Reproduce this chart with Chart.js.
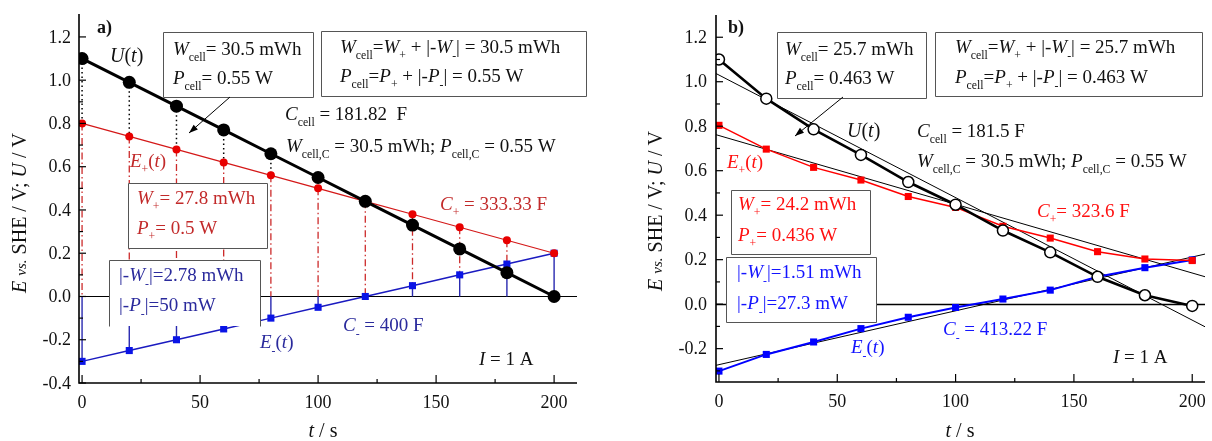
<!DOCTYPE html>
<html><head><meta charset="utf-8">
<script src="https://cdn.jsdelivr.net/npm/chart.js@4.4.0/dist/chart.umd.min.js"></script>
<style>
html,body{margin:0;padding:0;background:#fff;}
#wrap{position:relative;width:1212px;height:441px;overflow:hidden;background:#fff;}
canvas{position:absolute;top:0;}
#ca{left:0;}
#cb{left:606px;}
</style></head><body>
<div id="wrap">
<canvas id="ca" width="606" height="441"></canvas>
<canvas id="cb" width="606" height="441"></canvas>
</div>
<script>
// ---------------- DATA ----------------
const timeA = [0, 20, 40, 60, 80, 100, 120, 140, 160, 180, 200];
const cellVoltageA = [1.10, 0.99, 0.88, 0.77, 0.66, 0.55, 0.44, 0.33, 0.22, 0.11, 0.00];
const ePlusA = [0.80, 0.74, 0.68, 0.62, 0.56, 0.50, 0.44, 0.38, 0.32, 0.26, 0.20];
const eMinusA = [-0.30, -0.25, -0.20, -0.15, -0.10, -0.05, 0.00, 0.05, 0.10, 0.15, 0.20];

const timeB = [0, 20, 40, 60, 80, 100, 120, 140, 160, 180, 200];
const cellVoltageB = [1.100, 0.924, 0.786, 0.671, 0.549, 0.447, 0.331, 0.233, 0.123, 0.040, -0.008];
const ePlusB = [0.804, 0.697, 0.615, 0.558, 0.484, 0.435, 0.350, 0.297, 0.236, 0.203, 0.196];
const eMinusB = [-0.301, -0.226, -0.170, -0.110, -0.059, -0.015, 0.023, 0.063, 0.123, 0.164, 0.199];

// linear fits in panel b: intercept at t=0 and capacitance (V = V0 -/+ t/C)
const fitInterceptB = [1.03, 0.758, -0.272];
const fitCapacitanceB = [181.5, 323.6, 413.22];
const fitSignB = [-1, -1, 1];

const xMajorTicks = [0, 50, 100, 150, 200];
const xMinorTicks = [25, 75, 125, 175];
const yMajorTicksA = [-0.4, -0.2, 0.0, 0.2, 0.4, 0.6, 0.8, 1.0, 1.2];
const yMinorTicksA = [-0.3, -0.1, 0.1, 0.3, 0.5, 0.7, 0.9, 1.1];
const yMajorTicksB = [-0.2, 0.0, 0.2, 0.4, 0.6, 0.8, 1.0, 1.2];
const yMinorTicksB = [-0.3, -0.1, 0.1, 0.3, 0.5, 0.7, 0.9, 1.1];

// ---------------- HELPERS ----------------
const FONT = '"Liberation Serif","Times New Roman",serif';
function fnt(size, it, b) { return (it ? 'italic ' : '') + (b ? 'bold ' : '') + size + 'px ' + FONT; }
function parseRich(s) {
  const runs = []; let i = 0, italic = false, buf = '';
  const push = () => { if (buf) { runs.push({t: buf, i: italic}); buf = ''; } };
  while (i < s.length) {
    const ch = s[i];
    if (ch === '*') { push(); italic = !italic; i++; continue; }
    if ((ch === '_' || ch === '^' || ch === '~') && s[i + 1] === '{') {
      push(); const j = s.indexOf('}', i);
      runs.push({t: s.slice(i + 2, j), i: ch === '~' ? true : false, sub: ch === '_', sup: ch === '^', small: ch === '~'});
      i = j + 1; continue;
    }
    buf += ch; i++;
  }
  push(); return runs;
}
function drawRich(ctx, x, y, s, size, color, align, bold) {
  const runs = parseRich(s);
  const parts = runs.map(r => {
    const sz = (r.sub || r.sup) ? size * 0.62 : (r.small ? size * 0.75 : size);
    const f = fnt(sz, r.i, bold); ctx.font = f;
    return {r, f, w: ctx.measureText(r.t).width, dy: r.sub ? size * 0.3 : (r.sup ? -size * 0.38 : 0)};
  });
  const total = parts.reduce((a, p) => a + p.w, 0);
  let cx = align === 'center' ? x - total / 2 : x;
  ctx.fillStyle = color; ctx.textAlign = 'left'; ctx.textBaseline = 'alphabetic';
  for (const p of parts) { ctx.font = p.f; ctx.fillText(p.r.t, cx, y + p.dy); cx += p.w; }
  return total;
}
function pts(t, v) { return t.map((x, i) => ({x, y: v[i]})); }
function segs(t, lo, hi, keep) {
  const out = [];
  t.forEach((x, i) => {
    if (keep && !keep(i)) return;
    out.push({x, y: lo[i]}, {x, y: hi[i]}, {x, y: null});
  });
  return out;
}

function makePanel(canvasId, P) {
  const overlay = {
    id: 'overlay' + canvasId,
    beforeDatasetsDraw(chart) {
      const ctx = chart.ctx, xs = chart.scales.x, ys = chart.scales.y, a = chart.chartArea;
      ctx.save();
      ctx.strokeStyle = '#000'; ctx.lineWidth = P.zeroWidth;
      const y0 = Math.round(ys.getPixelForValue(0)) + 0.5;
      ctx.beginPath(); ctx.moveTo(a.left, y0); ctx.lineTo(a.right, y0); ctx.stroke();
      ctx.restore();
    },
    afterDatasetsDraw(chart) {
      const ctx = chart.ctx, xs = chart.scales.x, ys = chart.scales.y, a = chart.chartArea;
      const ox = P.offsetX;
      ctx.save();
      // axes
      ctx.strokeStyle = '#000'; ctx.lineWidth = 1.6;
      ctx.beginPath(); ctx.moveTo(a.left, a.top); ctx.lineTo(a.left, a.bottom); ctx.lineTo(a.right, a.bottom); ctx.stroke();
      ctx.lineWidth = 1.2;
      for (const v of xMajorTicks) { const px = xs.getPixelForValue(v); ctx.beginPath(); ctx.moveTo(px, a.bottom); ctx.lineTo(px, a.bottom - 8); ctx.stroke(); }
      for (const v of xMinorTicks) { const px = xs.getPixelForValue(v); ctx.beginPath(); ctx.moveTo(px, a.bottom); ctx.lineTo(px, a.bottom - 4); ctx.stroke(); }
      for (const v of P.yMajor) { const py = ys.getPixelForValue(v); ctx.beginPath(); ctx.moveTo(a.left, py); ctx.lineTo(a.left + 7, py); ctx.stroke(); }
      for (const v of P.yMinor) { const py = ys.getPixelForValue(v); ctx.beginPath(); ctx.moveTo(a.left, py); ctx.lineTo(a.left + 4, py); ctx.stroke(); }
      // tick labels
      ctx.fillStyle = '#111'; ctx.font = fnt(18);
      ctx.textAlign = 'center'; ctx.textBaseline = 'alphabetic';
      for (const v of xMajorTicks) ctx.fillText(String(v), xs.getPixelForValue(v), P.xLabelBaseline);
      ctx.textAlign = 'right'; ctx.textBaseline = 'middle';
      for (const v of P.yMajor) ctx.fillText(v.toFixed(1), P.yLabelRight - ox, ys.getPixelForValue(v) + 1);
      // axis titles
      drawRich(ctx, P.xTitle.x - ox, P.xTitle.y, '*t* / s', 20, '#111', 'center');
      ctx.save(); ctx.translate(P.yTitle.x - ox, P.yTitle.y); ctx.rotate(-Math.PI / 2);
      drawRich(ctx, 0, 7, '*E* ~{vs.} SHE / V; *U* / V', 20, '#111', 'center');
      ctx.restore();
      // boxes
      for (const b of P.boxes) {
        ctx.fillStyle = '#fff'; ctx.fillRect(b.r[0] - ox, b.r[1], b.r[2] - b.r[0], b.r[3] - b.r[1]);
        ctx.strokeStyle = '#555'; ctx.lineWidth = 1;
        const L = Math.round(b.r[0] - ox) + 0.5, T = Math.round(b.r[1]) + 0.5, R = Math.round(b.r[2] - ox) + 0.5, B = Math.round(b.r[3]) + 0.5;
        ctx.beginPath();
        if (b.open) { ctx.moveTo(L, B); ctx.lineTo(L, T); ctx.lineTo(R, T); ctx.lineTo(R, B); }
        else ctx.rect(L, T, R - L, B - T);
        ctx.stroke();
      }
      // arrows
      for (const ar of P.arrows) {
        const [x1, y1, x2, y2] = [ar[0] - ox, ar[1], ar[2] - ox, ar[3]];
        ctx.strokeStyle = '#000'; ctx.lineWidth = 1;
        ctx.beginPath(); ctx.moveTo(x1, y1); ctx.lineTo(x2, y2); ctx.stroke();
        const ang = Math.atan2(y2 - y1, x2 - x1), hl = 9, hw = 3.2;
        ctx.fillStyle = '#000'; ctx.beginPath();
        ctx.moveTo(x2, y2);
        ctx.lineTo(x2 - hl * Math.cos(ang) + hw * Math.sin(ang), y2 - hl * Math.sin(ang) - hw * Math.cos(ang));
        ctx.lineTo(x2 - hl * Math.cos(ang) - hw * Math.sin(ang), y2 - hl * Math.sin(ang) + hw * Math.cos(ang));
        ctx.closePath(); ctx.fill();
      }
      // texts
      for (const t of P.texts) drawRich(ctx, t.x - ox, t.y, t.s, t.size || 19, t.c || '#111', t.align, t.b);
      ctx.restore();
    }
  };
  return new Chart(document.getElementById(canvasId), {
    type: 'line',
    data: {datasets: P.datasets},
    options: {
      responsive: false, animation: false, events: [],
      layout: {padding: {left: 0, top: P.area.top, right: 606 - P.area.right, bottom: 0}},
      plugins: {legend: {display: false}, tooltip: {enabled: false}, title: {display: false}},
      scales: {
        x: {type: 'linear', min: P.xRange[0], max: P.xRange[1],
            grid: {display: false, drawTicks: false}, border: {display: false}, ticks: {display: false},
            afterFit(s) { s.height = 441 - P.area.bottom; s.paddingLeft = 0; s.paddingRight = 0; }},
        y: {type: 'linear', min: P.yRange[0], max: P.yRange[1],
            grid: {display: false, drawTicks: false}, border: {display: false}, ticks: {display: false},
            afterFit(s) { s.width = P.area.left; s.paddingTop = 0; s.paddingBottom = 0; }}
      },
      elements: {line: {tension: 0}}
    },
    plugins: [overlay]
  });
}

// ---------------- PANEL A ----------------
const redA = '#c22a2a', blueA = '#2a2a9c';
const dropLo = eMinusA.map(v => Math.max(v, 0));
const zeroA = eMinusA.map(() => 0);
makePanel('ca', {
  offsetX: 0,
  area: {left: 79, top: 14, right: 577, bottom: 383},
  xRange: [-1.3, 209.7], yRange: [-0.4, 1.306],
  yMajor: yMajorTicksA, yMinor: yMinorTicksA,
  zeroWidth: 1,
  xLabelBaseline: 408, yLabelRight: 71,
  xTitle: {x: 323, y: 437}, yTitle: {x: 19, y: 213},
  datasets: [
    {data: pts(timeA, cellVoltageA), borderColor: '#000', borderWidth: 3, pointRadius: 6.5, pointBackgroundColor: '#000', pointBorderWidth: 0},
    {data: pts(timeA, ePlusA), borderColor: '#d41818', borderWidth: 1.2, pointRadius: 4, pointBackgroundColor: '#e80000', pointBorderWidth: 0},
    {data: pts(timeA, eMinusA), borderColor: '#1a1ac0', borderWidth: 1.5, pointStyle: 'rect', pointRadius: 5, pointBackgroundColor: '#0a14e6', pointBorderWidth: 0},
    {data: segs(timeA, zeroA, eMinusA), borderColor: '#2a2ab0', borderWidth: 1.4, pointRadius: 0, spanGaps: false},
    {data: segs(timeA, ePlusA, dropLo), borderColor: '#cc2a2a', borderWidth: 1.3, borderDash: [7, 3, 1.5, 3], pointRadius: 0, spanGaps: false},
    {data: segs(timeA, cellVoltageA, ePlusA, i => cellVoltageA[i] > ePlusA[i]), borderColor: '#000', borderWidth: 1.5, borderDash: [1.5, 3], pointRadius: 0, spanGaps: false}
  ],
  boxes: [
    {r: [163, 32, 313, 97]}, {r: [321, 31, 586, 96]},
    {r: [128, 183, 267, 248]}, {r: [109, 260, 260, 326], open: true}
  ],
  arrows: [[230, 97, 189, 133]],
  texts: [
    {x: 97, y: 33, s: 'a)', b: true, size: 18},
    {x: 110, y: 62, s: '*U*(*t*)', size: 20},
    {x: 173, y: 55, s: '*W*_{cell}= 30.5 mWh'},
    {x: 173, y: 84, s: '*P*_{cell}= 0.55 W'},
    {x: 340, y: 53, s: '*W*_{cell}=*W*_{+} + |-*W*_{-}| = 30.5 mWh'},
    {x: 340, y: 82, s: '*P*_{cell}=*P*_{+} + |-*P*_{-}| = 0.55 W'},
    {x: 285, y: 120, s: '*C*_{cell} = 181.82  F'},
    {x: 286, y: 152, s: '*W*_{cell,C} = 30.5 mWh; *P*_{cell,C} = 0.55 W'},
    {x: 130, y: 167, s: '*E*_{+}(*t*)', c: redA},
    {x: 137, y: 204, s: '*W*_{+}= 27.8 mWh', c: redA},
    {x: 137, y: 234, s: '*P*_{+}= 0.5 W', c: redA},
    {x: 440, y: 210, s: '*C*_{+} = 333.33 F', c: redA},
    {x: 119, y: 281, s: '|-*W*_{-}|=2.78 mWh', c: blueA},
    {x: 119, y: 311, s: '|-*P*_{-}|=50 mW', c: blueA},
    {x: 343, y: 331, s: '*C*_{-} = 400 F', c: blueA},
    {x: 260, y: 348, s: '*E*_{-}(*t*)', c: blueA},
    {x: 479, y: 365, s: '*I* = 1 A'}
  ]
});

// ---------------- PANEL B ----------------
const redB = '#ff1010', blueB = '#1414ff';
const xRangeB = [-1.25, 205.4];
const fitData = k => xRangeB.map(t => ({x: t, y: fitInterceptB[k] + fitSignB[k] * t / fitCapacitanceB[k]}));
makePanel('cb', {
  offsetX: 606,
  area: {left: 110, top: 15, right: 606, bottom: 382},
  xRange: xRangeB, yRange: [-0.35, 1.3],
  yMajor: yMajorTicksB, yMinor: yMinorTicksB,
  zeroWidth: 1.5,
  xLabelBaseline: 407, yLabelRight: 707,
  xTitle: {x: 960, y: 437}, yTitle: {x: 655, y: 211},
  datasets: [
    {data: pts(timeB, cellVoltageB), borderColor: '#000', borderWidth: 2.6, pointRadius: 5.5, pointBackgroundColor: '#fff', pointBorderColor: '#000', pointBorderWidth: 1.5},
    {data: pts(timeB, ePlusB), borderColor: '#ff0000', borderWidth: 1.5, pointStyle: 'rect', pointRadius: 5, pointBackgroundColor: '#ff0000', pointBorderWidth: 0},
    {data: pts(timeB, eMinusB), borderColor: '#0000ff', borderWidth: 2, pointStyle: 'rect', pointRadius: 5, pointBackgroundColor: '#0000ff', pointBorderWidth: 0},
    {data: fitData(0), borderColor: '#000', borderWidth: 1, pointRadius: 0},
    {data: fitData(1), borderColor: '#000', borderWidth: 1, pointRadius: 0},
    {data: fitData(2), borderColor: '#000', borderWidth: 1, pointRadius: 0}
  ],
  boxes: [
    {r: [777, 32, 926, 98]}, {r: [935, 32, 1202, 96]},
    {r: [731, 190, 870, 254]}, {r: [726, 257, 876, 322]}
  ],
  arrows: [[843, 97, 795, 136]],
  texts: [
    {x: 728, y: 33, s: 'b)', b: true, size: 18},
    {x: 785, y: 55, s: '*W*_{cell}= 25.7 mWh'},
    {x: 785, y: 84, s: '*P*_{cell}= 0.463 W'},
    {x: 955, y: 53, s: '*W*_{cell}=*W*_{+} + |-*W*_{-}| = 25.7 mWh'},
    {x: 955, y: 83, s: '*P*_{cell}=*P*_{+} + |-*P*_{-}| = 0.463 W'},
    {x: 847, y: 137, s: '*U*(*t*)', size: 20},
    {x: 917, y: 137, s: '*C*_{cell} = 181.5 F'},
    {x: 917, y: 167, s: '*W*_{cell,C} = 30.5 mWh; *P*_{cell,C} = 0.55 W'},
    {x: 727, y: 168, s: '*E*_{+}(*t*)', c: redB},
    {x: 738, y: 210, s: '*W*_{+}= 24.2 mWh', c: redB},
    {x: 738, y: 241, s: '*P*_{+}= 0.436 W', c: redB},
    {x: 1037, y: 217, s: '*C*_{+}= 323.6 F', c: redB},
    {x: 737, y: 278, s: '|-*W*_{-}|=1.51 mWh', c: blueB},
    {x: 737, y: 309, s: '|-*P*_{-}|=27.3 mW', c: blueB},
    {x: 943, y: 335, s: '*C*_{-} = 413.22 F', c: blueB},
    {x: 851, y: 353, s: '*E*_{-}(*t*)', c: blueB},
    {x: 1113, y: 363, s: '*I* = 1 A'}
  ]
});
</script>
</body></html>
